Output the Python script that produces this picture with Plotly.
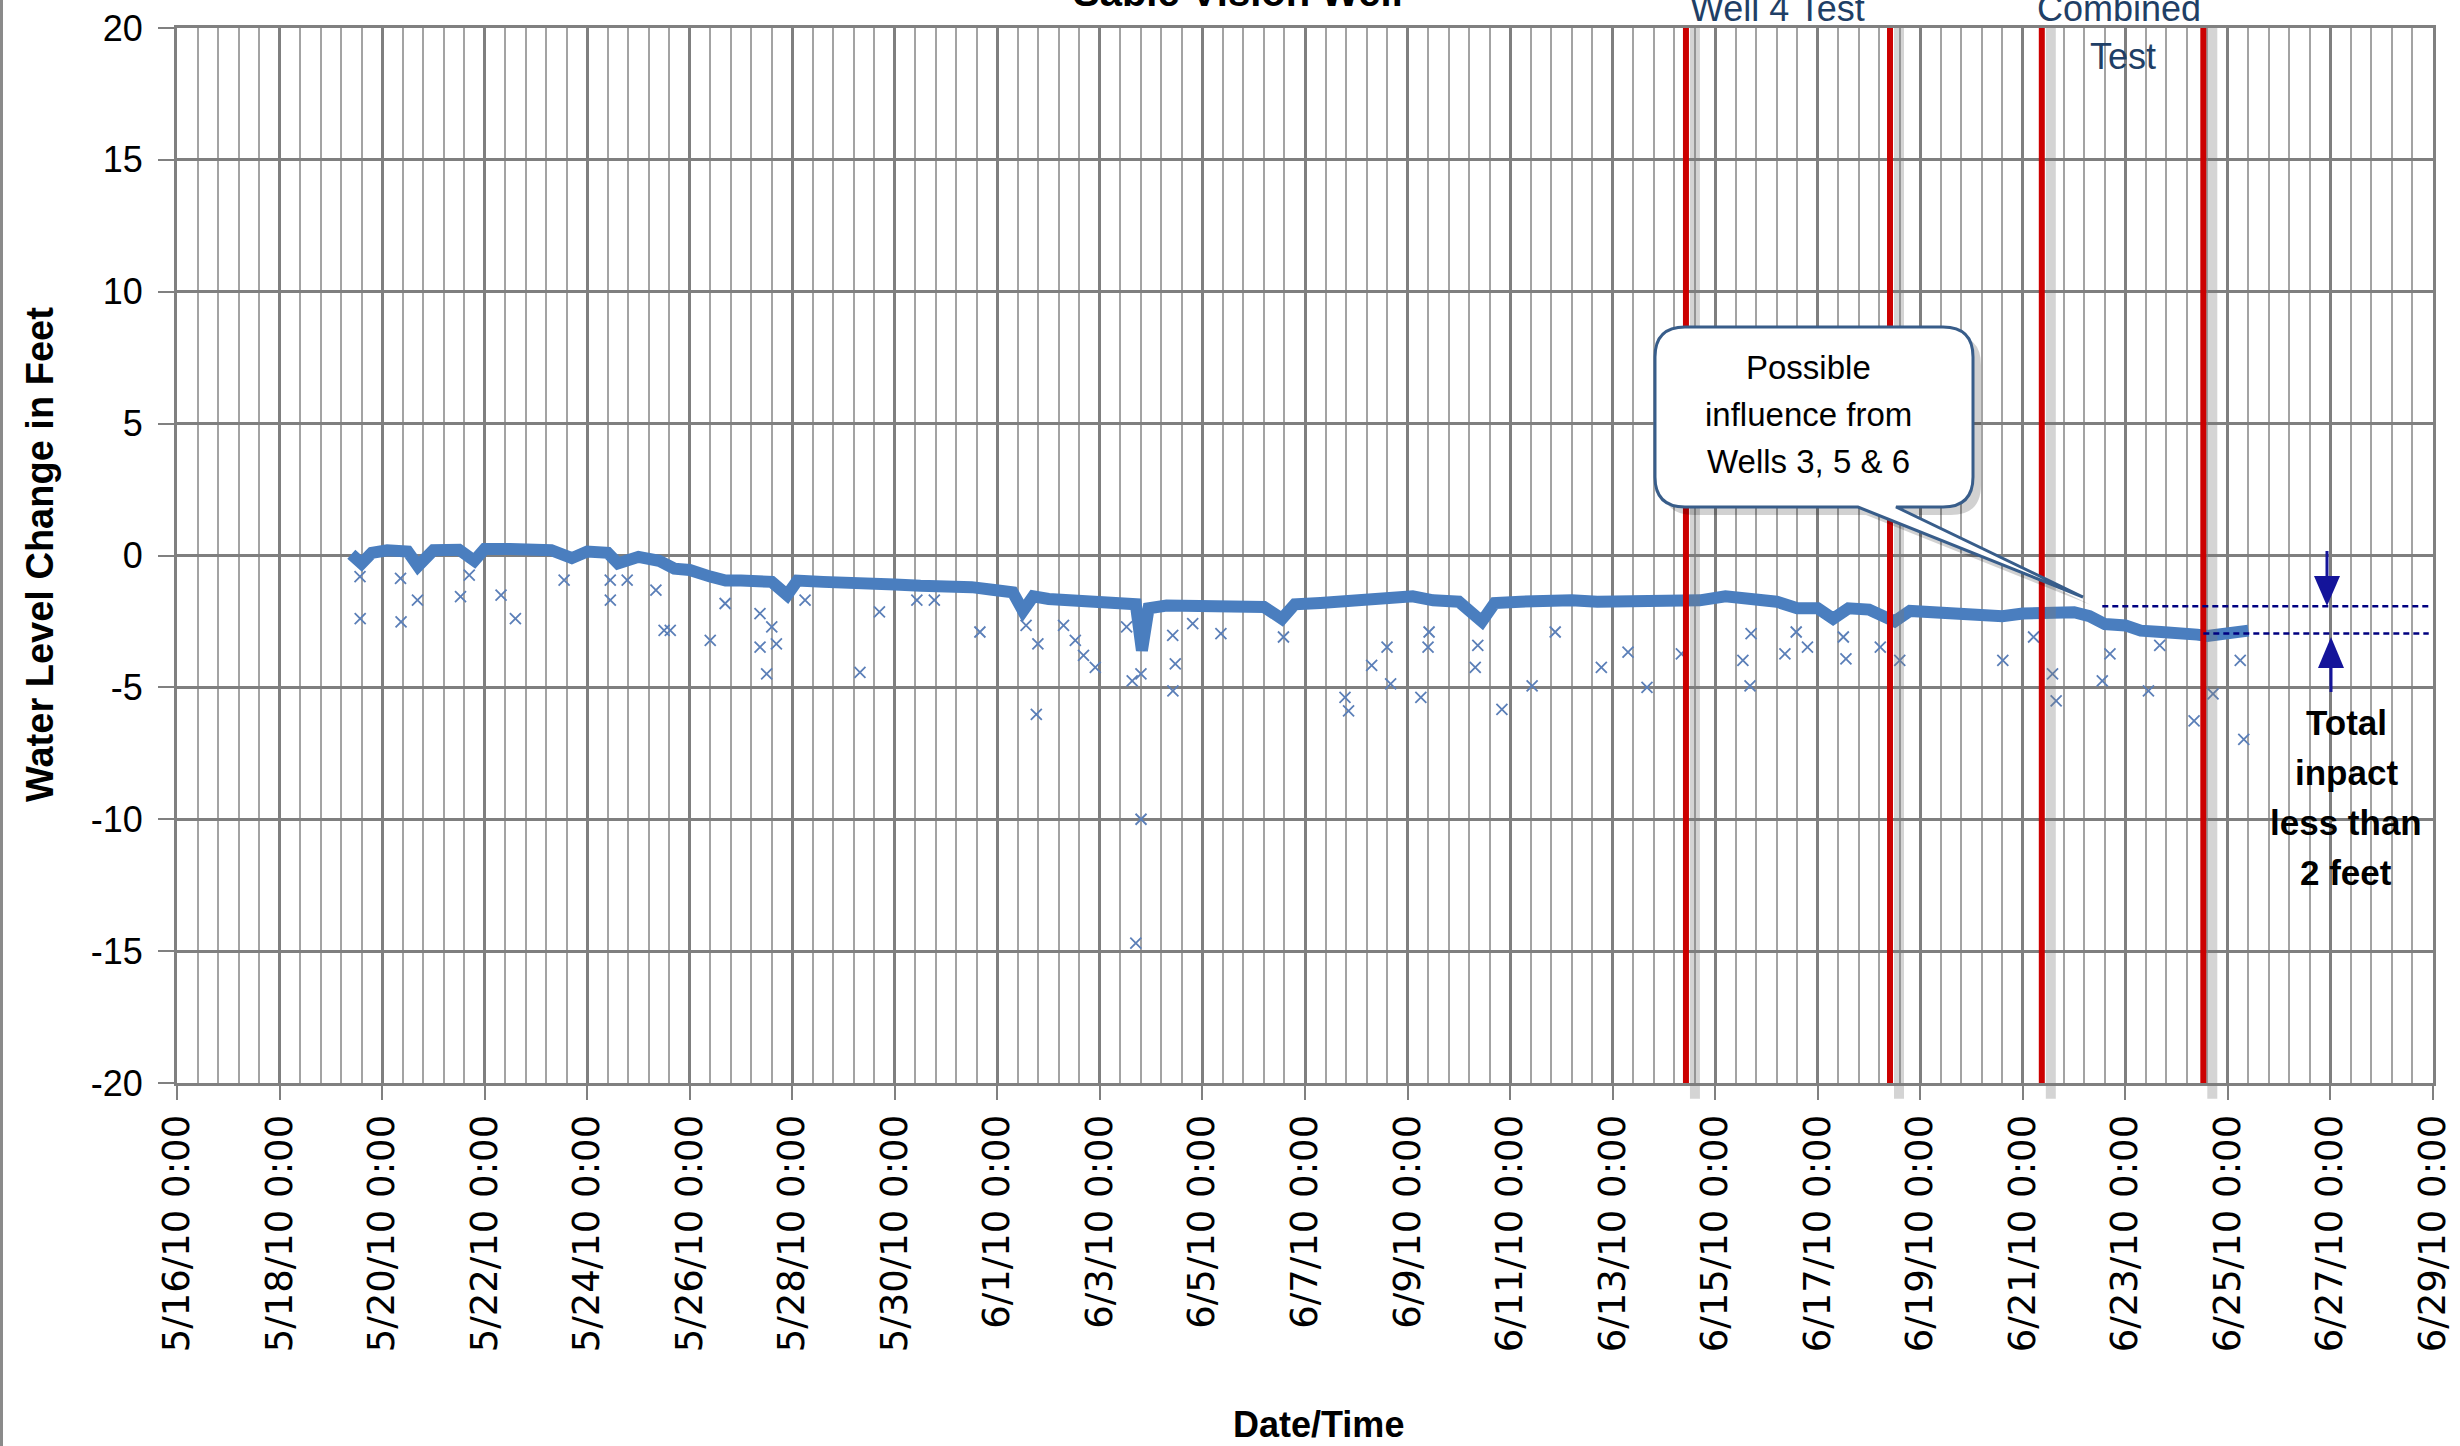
import plotly.graph_objects as go
import pandas as pd

# ---------------- data ----------------
band_time = [
    "2010-05-19 09:36", "2010-05-19 14:24", "2010-05-19 19:12", "2010-05-20 02:24", "2010-05-20 12:00",
    "2010-05-20 16:48", "2010-05-21 00:00", "2010-05-21 12:00", "2010-05-21 19:12", "2010-05-22 00:00",
    "2010-05-22 12:00", "2010-05-22 21:36", "2010-05-23 07:12", "2010-05-23 16:48", "2010-05-24 00:00",
    "2010-05-24 09:36", "2010-05-24 14:24", "2010-05-25 00:00", "2010-05-25 09:36", "2010-05-25 16:48",
    "2010-05-26 00:00", "2010-05-26 09:36", "2010-05-26 16:48", "2010-05-27 00:00", "2010-05-27 14:24",
    "2010-05-27 21:36", "2010-05-28 02:24", "2010-05-28 14:24", "2010-05-29 00:00", "2010-05-29 14:24",
    "2010-05-30 00:00", "2010-05-30 12:00", "2010-05-31 00:00", "2010-05-31 12:00", "2010-05-31 21:36",
    "2010-06-01 07:12", "2010-06-01 12:00", "2010-06-01 16:48", "2010-06-02 00:00", "2010-06-02 12:00",
    "2010-06-02 21:36", "2010-06-03 07:12", "2010-06-03 16:48", "2010-06-03 19:40", "2010-06-03 22:48",
    "2010-06-04 07:12", "2010-06-04 19:12", "2010-06-05 07:12", "2010-06-05 19:12", "2010-06-06 04:48",
    "2010-06-06 13:12", "2010-06-06 19:12", "2010-06-07 07:12", "2010-06-07 19:12", "2010-06-08 07:12",
    "2010-06-08 16:48", "2010-06-09 02:24", "2010-06-09 12:00", "2010-06-10 00:00", "2010-06-10 10:48",
    "2010-06-10 16:48", "2010-06-11 04:48", "2010-06-11 16:48", "2010-06-12 04:48", "2010-06-12 16:48",
    "2010-06-13 04:48", "2010-06-13 16:48", "2010-06-14 04:48", "2010-06-14 16:48", "2010-06-15 04:48",
    "2010-06-15 16:48", "2010-06-16 04:48", "2010-06-16 14:24", "2010-06-17 00:00", "2010-06-17 07:12",
    "2010-06-17 14:24", "2010-06-18 00:00", "2010-06-18 12:00", "2010-06-18 19:12", "2010-06-19 07:12",
    "2010-06-19 19:12", "2010-06-20 07:12", "2010-06-20 14:24", "2010-06-21 00:00", "2010-06-21 12:00",
    "2010-06-22 00:00", "2010-06-22 07:12", "2010-06-22 14:24", "2010-06-23 00:00", "2010-06-23 07:12",
    "2010-06-23 16:48", "2010-06-24 00:00", "2010-06-24 09:36", "2010-06-24 14:24", "2010-06-25 00:00",
    "2010-06-25 09:36",
]
band_level = [
    0.05, -0.3, 0.1, 0.2, 0.15,
    -0.4, 0.2, 0.22, -0.2, 0.25,
    0.25, 0.2, 0.2, -0.1, 0.15,
    0.1, -0.3, -0.05, -0.2, -0.5,
    -0.55, -0.8, -0.95, -0.95, -1.0,
    -1.5, -0.95, -1.0, -1.0, -1.1,
    -1.1, -1.15, -1.15, -1.2, -1.3,
    -1.4, -2.1, -1.55, -1.65, -1.7,
    -1.8, -1.8, -1.85, -3.6, -2.0,
    -1.9, -1.9, -1.9, -1.95, -1.95,
    -2.4, -1.85, -1.8, -1.75, -1.7,
    -1.7, -1.55, -1.7, -1.75, -2.5,
    -1.8, -1.75, -1.7, -1.7, -1.75,
    -1.75, -1.75, -1.75, -1.7, -1.55,
    -1.65, -1.75, -2.0, -2.0, -2.4,
    -2.0, -2.05, -2.5, -2.1, -2.15,
    -2.15, -2.2, -2.3, -2.2, -2.15,
    -2.15, -2.3, -2.6, -2.65, -2.85,
    -2.9, -2.9, -3.0, -3.05, -2.95,
    -2.85,
]

outlier_time = [
    "2010-05-19 13:40", "2010-05-19 13:45", "2010-05-20 08:38", "2010-05-20 08:53", "2010-05-20 16:34",
    "2010-05-21 12:43", "2010-05-21 16:48", "2010-05-22 07:41", "2010-05-22 14:24", "2010-05-23 13:12",
    "2010-05-24 10:48", "2010-05-24 10:50", "2010-05-24 18:43", "2010-05-25 08:10", "2010-05-25 12:00",
    "2010-05-25 14:53", "2010-05-26 09:36", "2010-05-26 16:34", "2010-05-27 08:53", "2010-05-27 08:55",
    "2010-05-27 16:34", "2010-05-27 14:24", "2010-05-27 12:00", "2010-05-28 06:00", "2010-05-29 07:41",
    "2010-05-29 16:48", "2010-05-30 10:19", "2010-05-30 18:29", "2010-05-31 15:50", "2010-06-01 13:26",
    "2010-06-01 18:58", "2010-06-01 18:14", "2010-06-02 06:58", "2010-06-02 12:29", "2010-06-02 16:19",
    "2010-06-02 21:50", "2010-06-03 12:29", "2010-06-03 15:07", "2010-06-03 19:12", "2010-06-03 19:15",
    "2010-06-03 16:48", "2010-06-04 10:05", "2010-06-04 11:17", "2010-06-04 10:10", "2010-06-04 19:26",
    "2010-06-05 08:38", "2010-06-06 13:55", "2010-06-07 18:43", "2010-06-07 20:24", "2010-06-08 07:12",
    "2010-06-08 14:24", "2010-06-08 16:05", "2010-06-09 06:14", "2010-06-09 10:05", "2010-06-09 09:36",
    "2010-06-10 07:41", "2010-06-10 08:53", "2010-06-10 20:10", "2010-06-11 10:19", "2010-06-11 21:07",
    "2010-06-12 18:43", "2010-06-13 07:12", "2010-06-13 16:05", "2010-06-14 08:10", "2010-06-15 12:58",
    "2010-06-15 16:19", "2010-06-15 16:48", "2010-06-16 08:38", "2010-06-16 13:55", "2010-06-16 19:12",
    "2010-06-17 13:12", "2010-06-17 12:00", "2010-06-18 05:17", "2010-06-18 14:24", "2010-06-20 14:38",
    "2010-06-21 05:02", "2010-06-21 13:55", "2010-06-21 15:36", "2010-06-22 13:12", "2010-06-22 16:48",
    "2010-06-23 10:48", "2010-06-23 16:05", "2010-06-24 08:10", "2010-06-24 17:02", "2010-06-25 05:46",
    "2010-06-25 07:26",
]
outlier_level = [
    -0.8, -2.39, -0.87, -2.52, -1.69,
    -1.56, -0.74, -1.5, -2.39, -0.93,
    -0.93, -1.69, -0.93, -1.31, -2.84,
    -2.84, -3.22, -1.82, -2.2, -3.47,
    -3.35, -2.71, -4.49, -1.69, -4.43,
    -2.14, -1.69, -1.69, -2.9, -2.65,
    -3.35, -6.02, -2.65, -3.22, -3.79,
    -4.24, -2.71, -4.75, -4.49, -10.0,
    -14.7, -3.03, -4.11, -5.13, -2.58,
    -2.96, -3.09, -5.38, -5.89, -4.17,
    -3.47, -4.87, -5.38, -2.9, -3.47,
    -4.24, -3.41, -5.83, -4.94, -2.9,
    -4.24, -3.66, -5.0, -3.73, -3.98,
    -4.94, -2.96, -3.73, -2.9, -3.47,
    -3.92, -3.09, -3.47, -3.98, -3.98,
    -3.09, -4.49, -5.51, -4.75, -3.73,
    -5.13, -3.41, -6.27, -5.25, -3.98,
    -6.97,
]

# pumping-test boundaries (red lines)
test_times = ["2010-06-14 10:19", "2010-06-18 09:50", "2010-06-21 08:53", "2010-06-24 12:29"]
# levels before / after marked with dashed lines
impact_levels = [-1.92, -2.96]
impact_starts = ["2010-06-22 13:12", "2010-06-24 12:29"]
impact_end = "2010-06-28 22:00"

x_tickvals = ["2010-05-16", "2010-05-18", "2010-05-20", "2010-05-22", "2010-05-24", "2010-05-26",
              "2010-05-28", "2010-05-30", "2010-06-01", "2010-06-03", "2010-06-05", "2010-06-07",
              "2010-06-09", "2010-06-11", "2010-06-13", "2010-06-15", "2010-06-17", "2010-06-19",
              "2010-06-21", "2010-06-23", "2010-06-25", "2010-06-27", "2010-06-29"]
x_ticktext = ["5/16/10 0:00", "5/18/10 0:00", "5/20/10 0:00", "5/22/10 0:00", "5/24/10 0:00",
              "5/26/10 0:00", "5/28/10 0:00", "5/30/10 0:00", "6/1/10 0:00", "6/3/10 0:00",
              "6/5/10 0:00", "6/7/10 0:00", "6/9/10 0:00", "6/11/10 0:00", "6/13/10 0:00",
              "6/15/10 0:00", "6/17/10 0:00", "6/19/10 0:00", "6/21/10 0:00", "6/23/10 0:00",
              "6/25/10 0:00", "6/27/10 0:00", "6/29/10 0:00"]
y_tickvals = [20, 15, 10, 5, 0, -5, -10, -15, -20]
y_ticktext = ["20", "15", "10", "5", "0", "-5", "-10", "-15", "-20"]

# ---------------- layout geometry ----------------
W, H = 2460, 1446
L, T, R, B = 177, 28, 2433, 1083
PX_PER_DAY = (R - L) / 44.0

def px(xp):
    return (xp - L) / (R - L)

def py(yp):
    return (B - yp) / (B - T)

SANS = "Liberation Sans, Arial, sans-serif"
BLUE = "#4A7EBF"

fig = go.Figure()

fig.add_trace(go.Scatter(
    x=band_time, y=band_level, mode="lines",
    line=dict(color=BLUE, width=12), hoverinfo="skip", showlegend=False))
fig.add_trace(go.Scatter(
    x=outlier_time, y=outlier_level, mode="markers",
    marker=dict(symbol="x-thin", size=11, line=dict(color="#5B7FB8", width=1.8)),
    hoverinfo="skip", showlegend=False))

shapes = []
# red event lines with grey shadow
for t in test_times:
    ts = pd.Timestamp(t)
    sh = ts + pd.Timedelta(days=9 / PX_PER_DAY)
    shapes.append(dict(type="line", xref="x", yref="paper", x0=sh, x1=sh, y0=-0.015, y1=1.0,
                       line=dict(color="rgba(120,120,120,0.32)", width=10), layer="above"))
    shapes.append(dict(type="line", xref="x", yref="paper", x0=ts, x1=ts, y0=0, y1=1.0,
                       line=dict(color="#CC0000", width=6), layer="above"))

# dashed impact lines
for lvl, st in zip(impact_levels, impact_starts):
    shapes.append(dict(type="line", xref="x", yref="y", x0=st, x1=impact_end, y0=lvl, y1=lvl,
                       line=dict(color="#000080", width=2.5, dash="6px,4px"), layer="above"))

# callout bubble
def bubble_path(dx=0, dy=0):
    x0, x1, y0, y1, r = 1655 + dx, 1973 + dx, 327 + dy, 507 + dy, 30
    tb0, tb1 = 1858 + dx, 1896 + dx
    tip = (2083 + dx, 597 + dy)
    pts = [
        ("M", [(x0 + r, y0)]), ("L", [(x1 - r, y0)]), ("Q", [(x1, y0), (x1, y0 + r)]),
        ("L", [(x1, y1 - r)]), ("Q", [(x1, y1), (x1 - r, y1)]), ("L", [(tb1, y1)]),
        ("L", [tip]), ("L", [(tb0, y1)]), ("L", [(x0 + r, y1)]),
        ("Q", [(x0, y1), (x0, y1 - r)]), ("L", [(x0, y0 + r)]), ("Q", [(x0, y0), (x0 + r, y0)]),
    ]
    s = ""
    for cmd, ps in pts:
        s += cmd + " " + " ".join(f"{px(a):.5f},{py(b):.5f}" for a, b in ps) + " "
    return s + "Z"

shapes.append(dict(type="path", xref="paper", yref="paper", path=bubble_path(8, 8),
                   fillcolor="rgba(0,0,0,0.18)", line=dict(width=0), layer="above"))
shapes.append(dict(type="path", xref="paper", yref="paper", path=bubble_path(),
                   fillcolor="white", line=dict(color="#385D8A", width=3), layer="above"))

# arrows
NAVY = "#14149A"
def tri(cx, base, tipy, hw):
    return (f"M {px(cx - hw):.5f},{py(base):.5f} L {px(cx + hw):.5f},{py(base):.5f} "
            f"L {px(cx):.5f},{py(tipy):.5f} Z")

shapes.append(dict(type="line", xref="paper", yref="paper", x0=px(2327), x1=px(2327),
                   y0=py(551), y1=py(580), line=dict(color=NAVY, width=3), layer="above"))
shapes.append(dict(type="path", xref="paper", yref="paper", path=tri(2327, 576, 606, 13),
                   fillcolor=NAVY, line=dict(width=0), layer="above"))
shapes.append(dict(type="line", xref="paper", yref="paper", x0=px(2331), x1=px(2331),
                   y0=py(664), y1=py(692), line=dict(color=NAVY, width=3), layer="above"))
shapes.append(dict(type="path", xref="paper", yref="paper", path=tri(2331, 668, 637, 13),
                   fillcolor=NAVY, line=dict(width=0), layer="above"))

# left border of the chart area
shapes.append(dict(type="line", xref="paper", yref="paper", x0=px(1.5), x1=px(1.5),
                   y0=py(0), y1=py(W), line=dict(color="#8A8A8A", width=3), layer="above"))

annotations = []

def text_at(txt, xp, yp, size, color="black", bold=False, angle=0, family=SANS):
    annotations.append(dict(text=(f"<b>{txt}</b>" if bold else txt), xref="paper", yref="paper",
                            x=px(xp), y=py(yp), xanchor="center", yanchor="middle",
                            textangle=angle, showarrow=False,
                            font=dict(family=family, size=size, color=color)))

# clipped chart title
text_at("Sable Vision Well", 1238, -8, 40, bold=True)

# test labels (centred between the red lines)
t0, t1, t2, t3 = [pd.Timestamp(t) for t in test_times]
TEST_COL = "#1F3F66"
annotations.append(dict(text="Well 4 Test", xref="x", yref="paper", x=t0 + (t1 - t0) / 2,
                        y=py(8), xanchor="center", yanchor="middle", showarrow=False, xshift=-10,
                        font=dict(family=SANS, size=36, color=TEST_COL)))
annotations.append(dict(text="Combined", xref="x", yref="paper", x=t2 + (t3 - t2) / 2,
                        y=py(8), xanchor="center", yanchor="middle", showarrow=False, xshift=-4,
                        font=dict(family=SANS, size=36, color=TEST_COL)))
annotations.append(dict(text="Test", xref="x", yref="paper", x=t2 + (t3 - t2) / 2,
                        y=py(57), xanchor="center", yanchor="middle", showarrow=False,
                        font=dict(family=SANS, size=36, color=TEST_COL)))

# callout text
for line, yy in zip(["Possible", "influence from", "Wells 3, 5 & 6"], [367, 414, 461]):
    text_at(line, 1808, yy, 33)

# total impact text
for line, yy in zip(["Total", "inpact", "less than", "2 feet"], [722, 772, 822, 872]):
    text_at(line, 2346, yy, 35, bold=True)

# axis titles
text_at("Water Level Change in Feet", 40, 555, 38, bold=True, angle=-90)
text_at("Date/Time", 1318, 1424, 36, bold=True)

fig.update_layout(
    width=W, height=H,
    margin=dict(l=L, r=W - R, t=T, b=H - B),
    paper_bgcolor="white", plot_bgcolor="white",
    shapes=shapes, annotations=annotations,
    showlegend=False,
    xaxis=dict(
        type="date", range=["2010-05-16", "2010-06-29"],
        tickmode="array", tickvals=x_tickvals, ticktext=x_ticktext, tickangle=-90,
        tickfont=dict(family="DejaVu Sans, Verdana, sans-serif", size=37, color="black"),
        ticks="outside", ticklen=14, tickwidth=2, tickcolor="#808080",
        showgrid=True, gridcolor="#7F7F7F", gridwidth=2.5,
        minor=dict(tick0="2010-05-16", dtick=0.4 * 86400000, showgrid=True,
                   gridcolor="#A3A3A3", gridwidth=1.5, ticks=""),
        showline=True, linecolor="#808080", linewidth=3, mirror=True,
        zeroline=False, automargin=False,
    ),
    yaxis=dict(
        range=[-20, 20], tickmode="array", tickvals=y_tickvals, ticktext=y_ticktext,
        tickfont=dict(family=SANS, size=36, color="black"),
        ticks="outside", ticklen=16, tickwidth=2, tickcolor="#808080", ticklabelstandoff=8,
        showgrid=True, gridcolor="#7F7F7F", gridwidth=3,
        showline=True, linecolor="#808080", linewidth=3, mirror=True,
        zeroline=False, automargin=False,
    ),
)

fig.write_html("out.html")
